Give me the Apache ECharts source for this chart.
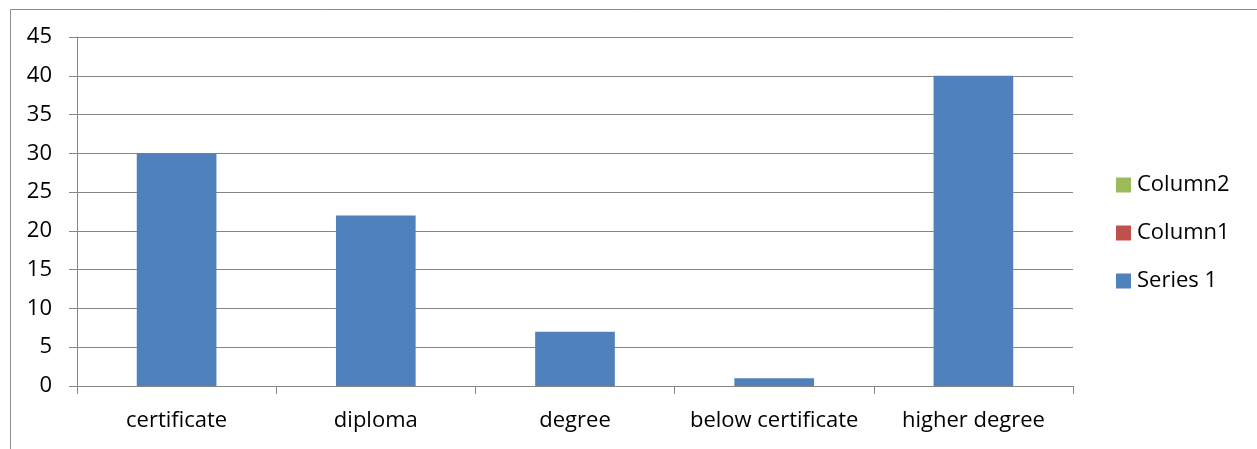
<!DOCTYPE html>
<html>
<head>
<meta charset="utf-8">
<script src="https://cdn.jsdelivr.net/npm/echarts@6/dist/echarts.min.js"></script>
<style>
  html, body { margin: 0; padding: 0; background: #fff; }
  #chart { width: 1257px; height: 449px; }
</style>
</head>
<body>
<div id="chart"></div>
<script>
// Education level counts
const categories = ['certificate', 'diploma', 'degree', 'below certificate', 'higher degree'];
const series1 = [30, 22, 7, 1, 40];
const column1 = [null, null, null, null, null];
const column2 = [null, null, null, null, null];
const legendOrder = ['Column2', 'Column1', 'Series 1'];

const FONT = '"Open Sans", "Noto Sans", sans-serif';
const FONT_SIZE = 22;
const GRID_COLOR = '#868686';

const chart = echarts.init(document.getElementById('chart'), null, { renderer: 'canvas' });

chart.setOption({
  animation: false,
  backgroundColor: '#ffffff',
  textStyle: { fontFamily: FONT },
  graphic: [{
    type: 'rect',
    left: 8, top: 7,
    shape: { width: 1300, height: 500 },
    style: { fill: 'none', stroke: '#8c8c8c', lineWidth: 1 },
    silent: true
  }],
  grid: { left: 77, right: 184, top: 37, bottom: 63, containLabel: false },
  legend: {
    data: legendOrder,
    orient: 'vertical',
    left: 1111,
    top: 169,
    icon: 'rect',
    itemWidth: 15,
    itemHeight: 15,
    itemGap: 26,
    textStyle: { fontFamily: FONT, fontSize: FONT_SIZE, color: '#000', padding: [0, 0, 0, 1] }
  },
  xAxis: {
    type: 'category',
    data: categories,
    axisLine: { lineStyle: { color: GRID_COLOR, width: 1 } },
    axisTick: { show: true, alignWithLabel: false, length: 8, lineStyle: { color: GRID_COLOR } },
    axisLabel: { fontFamily: FONT, fontSize: FONT_SIZE, color: '#000', margin: 24, interval: 0 },
    splitLine: { show: false }
  },
  yAxis: {
    type: 'value',
    min: 0, max: 45, interval: 5,
    axisLine: { show: true, lineStyle: { color: GRID_COLOR, width: 1 } },
    axisTick: { show: true, inside: false, length: 8, lineStyle: { color: GRID_COLOR } },
    axisLabel: { fontFamily: FONT, fontSize: FONT_SIZE, color: '#000', margin: 25 },
    splitLine: { show: true, lineStyle: { color: GRID_COLOR, width: 1 } }
  },
  series: [
    { name: 'Series 1', type: 'bar', stack: 'edu', data: series1, barWidth: '40%',
      itemStyle: { color: '#4F81BD' } },
    { name: 'Column1', type: 'bar', stack: 'edu', data: column1, itemStyle: { color: '#C0504D' } },
    { name: 'Column2', type: 'bar', stack: 'edu', data: column2, itemStyle: { color: '#9BBB59' } }
  ]
});
</script>
</body>
</html>
